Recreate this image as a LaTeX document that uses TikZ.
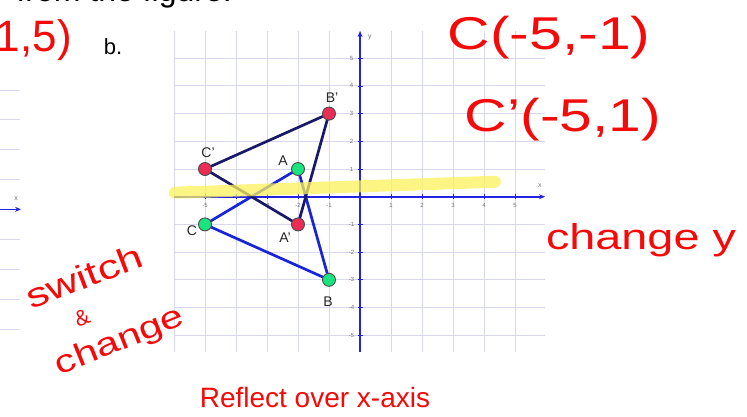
\documentclass[tikz,border=0pt]{standalone}
\usepackage{fontspec}
\usepackage{graphicx}
\setmainfont{Liberation Sans}
\usetikzlibrary{arrows.meta}
\definecolor{gridc}{RGB}{215,215,240}
\definecolor{axisc}{RGB}{35,35,225}
\definecolor{greenc}{RGB}{25,228,125}
\definecolor{redc}{RGB}{235,45,85}
\definecolor{tricone}{RGB}{25,35,215}
\definecolor{trictwo}{RGB}{25,25,105}
\definecolor{handred}{RGB}{245,10,10}
\definecolor{hilite}{RGB}{252,242,90}
\begin{document}
\begin{tikzpicture}[x=1pt,y=-1pt,
  gridline/.style={draw=gridc, line width=0.9pt},
  axisline/.style={draw=axisc, line width=1.6pt, -{Stealth[length=6pt,width=5pt]}},
  tickmark/.style={draw=axisc, line width=0.8pt},
  ticklab/.style={font=\fontsize{6}{7}\selectfont, text=black!55, inner sep=0pt},
  axlab/.style={font=\fontsize{7}{8}\selectfont, text=black!55, inner sep=0pt},
  dotg/.style={circle, draw=black!70, line width=0.9pt, fill=greenc, minimum size=13pt, inner sep=0pt},
  dotr/.style={circle, draw=black!70, line width=0.9pt, fill=redc, minimum size=13pt, inner sep=0pt},
  trione/.style={draw=tricone, line width=2.7pt, line join=round},
  tritwo/.style={draw=trictwo, line width=2.7pt, line join=round},
  ptlab/.style={font=\fontsize{14}{16}\selectfont, text=black!85, inner sep=0pt},
  hand/.style={text=handred, inner sep=0pt},
  hilitestroke/.style={draw=hilite, line width=12pt, line cap=round, opacity=0.75}
]
\useasboundingbox (0,0) rectangle (747,416);
\clip (0,0) rectangle (747,416);

% cut-off text at top
\node[anchor=base east, font=\fontsize{32}{34}\selectfont, inner sep=0pt] (toptext) at (232,1) {from the figure.};

% left partial grid
\foreach \yy in {90,119.3,149.3,179,239.3,269.3,299.3,329.3}
  \draw[gridline] (0,\yy) -- (20,\yy);
\coordinate (lx0) at (0,209.3);
\coordinate (lx1) at (21,209.3);
\draw[axisline] (lx0) -- (lx1);
\node[axlab] (lxlab) at (16,199) {x};

% main coordinate system
\begin{scope}[shift={(360,196.7)}, x=31pt, y=27.7pt]
  \foreach \i in {-6,...,5}
    \draw[gridline] (\i,-5.6) -- (\i,5.98);
  \foreach \j in {-5,...,5}
    \draw[gridline] (-6,\j) -- (5.97,\j);
  \coordinate (xa0) at (-6,0);
  \coordinate (xa1) at (5.97,0);
  \coordinate (ya0) at (0,-5.6);
  \coordinate (ya1) at (0,5.98);
  \draw[axisline] (xa0) -- (xa1);
  \draw[axisline] (ya0) -- (ya1);
  \foreach \i in {-5,...,-1,1,2,3,4,5} {
    \draw[tickmark] (\i,0) ++(0,-2.5pt) -- ++(0,5pt);
    \node[ticklab] at (\i,-0.3) {\i};
    \draw[tickmark] (0,\i) ++(-2.5pt,0) -- ++(5pt,0);
    \node[ticklab] at (-0.27,\i) {\i};
  }
  \node[axlab] (xlab) at (5.8,0.39) {x};
  \node[axlab] (ylab) at (0.32,5.76) {y};

  \coordinate (A) at (-2,1);
  \coordinate (B) at (-1,-3);
  \coordinate (C) at (-5,-1);
  \coordinate (Ap) at (-2,-1);
  \coordinate (Bp) at (-1,3);
  \coordinate (Cp) at (-5,1);

  \draw[trione] (A) -- (B) -- (C) -- cycle;
  \draw[tritwo] (Ap) -- (Bp) -- (Cp) -- cycle;

  \coordinate (h0) at (-5.97,0.144);
  \coordinate (h1) at (4.35,0.54);
  \draw[hilitestroke] (h0) -- (h1);

  \node[dotg] (Adot) at (A) {};
  \node[dotg] (Bdot) at (B) {};
  \node[dotg] (Cdot) at (C) {};
  \node[dotr] (Apdot) at (Ap) {};
  \node[dotr] (Bpdot) at (Bp) {};
  \node[dotr] (Cpdot) at (Cp) {};
\end{scope}

% point labels
\node[ptlab] (Bplab) at (332,98) {B'};
\node[ptlab] (Cplab) at (208,153) {C'};
\node[ptlab] (Alab) at (283,161) {A};
\node[ptlab] (Clab) at (192,231) {C};
\node[ptlab] (Aplab) at (285,238) {A'};
\node[ptlab] (Blab) at (328,302) {B};

\node[font=\fontsize{22}{24}\selectfont, inner sep=0pt] (blab) at (113,47) {b.};

% handwriting
\node[hand, font=\fontsize{46}{48}\selectfont] (hc1) at (549,38) {\scalebox{1.28}[1]{C(-5,-1)}};
\node[hand, font=\fontsize{46}{48}\selectfont] (hc2) at (563,120) {\scalebox{1.28}[1]{C'(-5,1)}};
\node[hand, font=\fontsize{36}{40}\selectfont] (hchg) at (641,240) {\scalebox{1.3}[1]{change y}};
\node[hand, font=\fontsize{44}{48}\selectfont, anchor=east] (htl) at (72,40) {(1,5)};
\node[hand, font=\fontsize{34}{38}\selectfont, rotate=21] (hsw) at (84,276) {\scalebox{1.3}[1]{switch}};
\node[hand, font=\fontsize{22}{24}\selectfont, rotate=21] (hamp) at (82,318) {\&};
\node[hand, font=\fontsize{32}{36}\selectfont, rotate=22] (hch) at (120,342) {\scalebox{1.3}[1]{change}};
\node[hand, font=\fontsize{28}{30}\selectfont] (refl) at (315,397) {Reflect over x-axis};
\end{tikzpicture}
\end{document}
